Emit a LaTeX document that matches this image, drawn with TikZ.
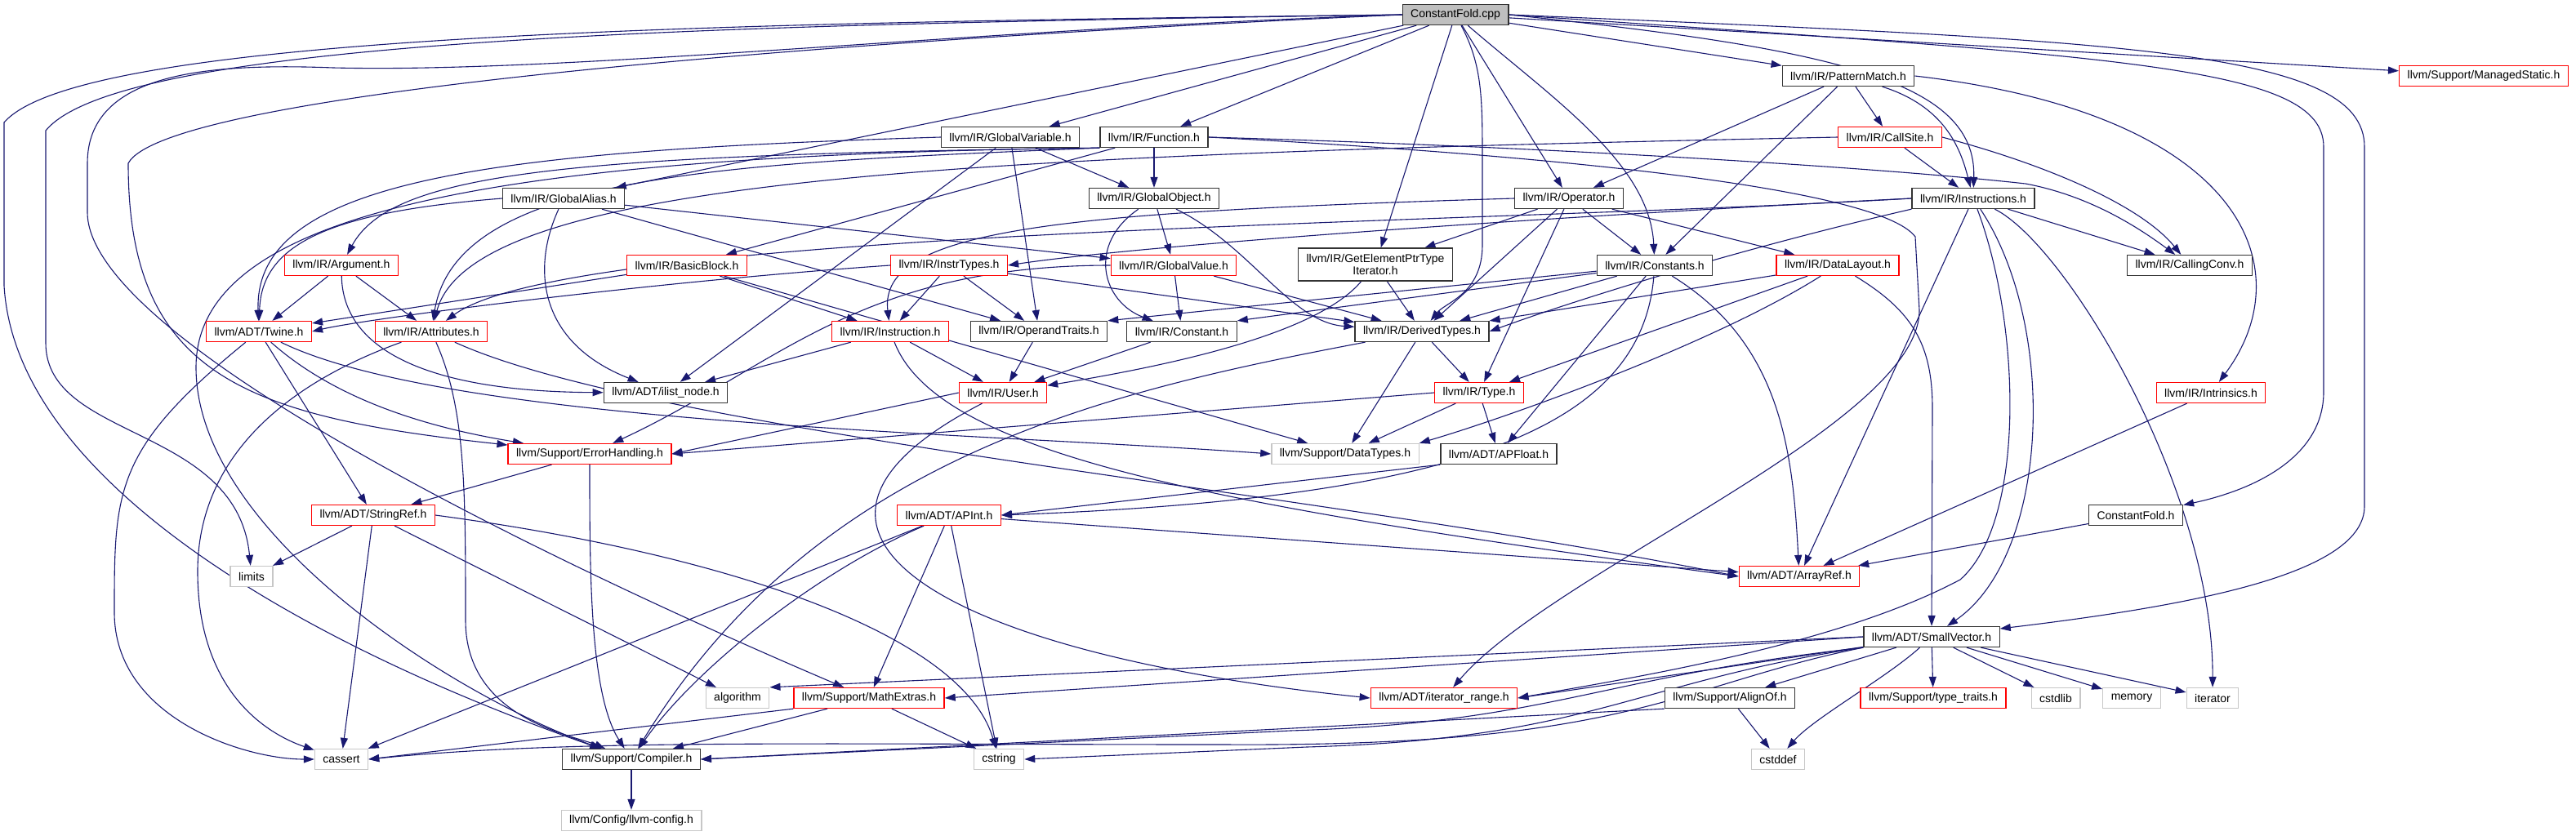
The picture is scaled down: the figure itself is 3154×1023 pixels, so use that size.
\documentclass[tikz,border=0pt]{standalone}
\usepackage{fontspec}
\setmainfont{Liberation Sans}
\usepackage{tikz}
\usetikzlibrary{arrows.meta,backgrounds}
\definecolor{edgeblue}{HTML}{191970}

\begin{document}
\begin{tikzpicture}[x=1pt,y=-1pt,
    box/.style={draw,line width=1.3pt,fill=white,inner xsep=10pt,inner ysep=2pt,
      minimum height=25pt,font=\fontsize{14}{15.5}\selectfont},
    hdr/.style={box,draw=black!80},
    trunc/.style={box,draw=red},
    sys/.style={box,draw=black!22},
    rootbox/.style={box,draw=black!80,fill=black!25},
    dep/.style={draw=edgeblue,line width=1.1pt,-{Triangle[length=13pt,width=9pt]}}]
  \useasboundingbox (0,0) rectangle (3154,1023);

  \node[rootbox] (cfcpp) at (1782,18) {ConstantFold.cpp};
  \node[hdr] (pm) at (2263,93) {llvm/IR/PatternMatch.h};
  \node[trunc] (ms) at (3041,93) {llvm/Support/ManagedStatic.h};
  \node[trunc] (cs) at (2314,168) {llvm/IR/CallSite.h};
  \node[hdr] (gv) at (1237,168) {llvm/IR/GlobalVariable.h};
  \node[hdr] (fn) at (1413,168) {llvm/IR/Function.h};
  \node[hdr] (ga) at (690,243) {llvm/IR/GlobalAlias.h};
  \node[hdr] (go) at (1413,243) {llvm/IR/GlobalObject.h};
  \node[hdr] (op) at (1921,243) {llvm/IR/Operator.h};
  \node[hdr] (ins) at (2416,243) {llvm/IR/Instructions.h};
  \node[trunc] (arg) at (418,325) {llvm/IR/Argument.h};
  \node[trunc] (bb) at (841,325) {llvm/IR/BasicBlock.h};
  \node[trunc] (it) at (1162,325) {llvm/IR/InstrTypes.h};
  \node[trunc] (gval) at (1437,325) {llvm/IR/GlobalValue.h};
  \node[hdr,align=center,minimum height=40pt] (gep) at (1684,324) {llvm/IR/GetElementPtrType\\Iterator.h};
  \node[hdr] (cons) at (2026,325) {llvm/IR/Constants.h};
  \node[trunc] (dl) at (2250,325) {llvm/IR/DataLayout.h};
  \node[hdr] (cc) at (2681,325) {llvm/IR/CallingConv.h};
  \node[trunc] (tw) at (317,406) {llvm/ADT/Twine.h};
  \node[trunc] (attr) at (528,406) {llvm/IR/Attributes.h};
  \node[trunc] (instn) at (1090,406) {llvm/IR/Instruction.h};
  \node[hdr] (ot) at (1272,406) {llvm/IR/OperandTraits.h};
  \node[hdr] (cst) at (1447,406) {llvm/IR/Constant.h};
  \node[hdr] (dt) at (1741,406) {llvm/IR/DerivedTypes.h};
  \node[hdr] (iln) at (815,481) {llvm/ADT/ilist\_node.h};
  \node[trunc] (usr) at (1228,481) {llvm/IR/User.h};
  \node[trunc] (ty) at (1811,481) {llvm/IR/Type.h};
  \node[trunc] (intr) at (2707,481) {llvm/IR/Intrinsics.h};
  \node[trunc] (eh) at (722,556) {llvm/Support/ErrorHandling.h};
  \node[sys] (dtp) at (1647,556) {llvm/Support/DataTypes.h};
  \node[hdr] (apf) at (1835,556) {llvm/ADT/APFloat.h};
  \node[trunc] (sr) at (457,631) {llvm/ADT/StringRef.h};
  \node[trunc] (api) at (1162,631) {llvm/ADT/APInt.h};
  \node[hdr] (cfh) at (2615,631) {ConstantFold.h};
  \node[sys] (lim) at (308,706) {limits};
  \node[trunc] (ar) at (2203,706) {llvm/ADT/ArrayRef.h};
  \node[hdr] (sv) at (2365,780) {llvm/ADT/SmallVector.h};
  \node[sys] (alg) at (903,855) {algorithm};
  \node[trunc] (me) at (1064,855) {llvm/Support/MathExtras.h};
  \node[trunc] (itr) at (1768,855) {llvm/ADT/iterator\_range.h};
  \node[hdr] (ao) at (2118,855) {llvm/Support/AlignOf.h};
  \node[trunc] (tt) at (2367,855) {llvm/Support/type\_traits.h};
  \node[sys] (cstdlib) at (2517,855) {cstdlib};
  \node[sys] (mem) at (2610,855) {memory};
  \node[sys] (iter) at (2709,855) {iterator};
  \node[sys] (cas) at (418,930) {cassert};
  \node[hdr] (comp) at (773,930) {llvm/Support/Compiler.h};
  \node[sys] (cstr) at (1223,930) {cstring};
  \node[sys] (cdef) at (2177,930) {cstddef};
  \node[sys] (cfg) at (773,1005) {llvm/Config/llvm-config.h};

  \begin{scope}[on background layer]
    \draw[dep] (cfcpp) -- (ms);
    \draw[dep] (cfcpp) -- (pm);
    \draw[dep] (cfcpp.east) .. controls (2600,70) and (2845,80) .. (2845,180) -- (2845,480) .. controls (2845,560) and (2760,600) .. (cfh);
    \draw[dep] (cfcpp.east) .. controls (2600,50) and (2895,60) .. (2895,180) -- (2895,620) .. controls (2895,700) and (2700,740) .. (sv);
    \draw[dep] (cfcpp.east) .. controls (2250,60) and (2420,100) .. (ins);
    \draw[dep] (cfcpp) .. controls (1900,120) and (2020,200) .. (cons);
    \draw[dep] (cfcpp) -- (op);
    \draw[dep] (cfcpp) .. controls (1815,80) and (1815,120) .. (1815,200) -- (1815,300) .. controls (1815,360) and (1770,370) .. (dt);
    \draw[dep] (cfcpp) -- (gep);
    \draw[dep] (cfcpp) -- (fn);
    \draw[dep] (cfcpp) -- (gv);
    \draw[dep] (cfcpp) -- (ga);
    \draw[dep] (cfcpp.west) .. controls (900,28) and (100,40) .. (5,150) -- (5,350) .. controls (20,600) and (400,800) .. (comp);
    \draw[dep] (cfcpp.west) .. controls (900,30) and (150,45) .. (56,160) -- (56,420) .. controls (56,540) and (290,520) .. (lim);
    \draw[dep] (cfcpp.west) .. controls (1200,35) and (700,90) .. (408,83) .. controls (250,77) and (107,90) .. (107,200) -- (107,260) .. controls (107,420) and (700,700) .. (me);
    \draw[dep] (cfcpp.west) .. controls (900,55) and (200,120) .. (157,200) .. controls (157,460) and (300,510) .. (eh);

    \draw[dep] (pm) -- (cs);
    \draw[dep] (pm) .. controls (2380,130) and (2400,180) .. (ins);
    \draw[dep] (pm) -- (op);
    \draw[dep] (pm) -- (cons);
    \draw[dep] (pm.east) .. controls (2750,140) and (2820,330) .. (intr);

    \draw[dep] (cs) -- (ins);
    \draw[dep] (cs.east) .. controls (2500,200) and (2620,250) .. (cc);
    \draw[dep] (cs.west) .. controls (1200,190) and (580,215) .. (attr);

    \draw[dep] (gv) -- (go);
    \draw[dep] (gv) -- (ot);
    \draw[dep] (gv) -- (iln);
    \draw[dep] (gv.west) .. controls (600,185) and (310,220) .. (tw);

    \draw[dep] (fn) -- (go);
    \draw[dep] (fn) -- (bb);
    \draw[dep] (fn.south west) .. controls (700,190) and (480,210) .. (arg);
    \draw[dep] (fn.south west) .. controls (900,200) and (560,210) .. (attr);
    \draw[dep] (fn.east) .. controls (1900,180) and (2300,205) .. (2480,225) .. controls (2560,240) and (2620,280) .. (cc);
    \draw[dep] (fn.south west) .. controls (600,190) and (240,260) .. (240,450) .. controls (240,650) and (550,850) .. (comp);
    \draw[dep] (fn.east) .. controls (1900,190) and (2300,230) .. (2345,290) -- (2350,380) .. controls (2350,520) and (1900,700) .. (itr);

    \draw[dep] (ga) -- (gval);
    \draw[dep] (ga) .. controls (650,330) and (660,420) .. (iln);
    \draw[dep] (ga.west) .. controls (400,260) and (320,300) .. (tw);
    \draw[dep] (ga) -- (ot);

    \draw[dep] (go) -- (gval);
    \draw[dep] (go) .. controls (1330,300) and (1350,370) .. (cst);
    \draw[dep] (go) .. controls (1530,300) and (1580,395) .. (dt);

    \draw[dep] (op) -- (gep);
    \draw[dep] (op) -- (cons);
    \draw[dep] (op) -- (dl);
    \draw[dep] (op) -- (dt);
    \draw[dep] (op) -- (ty);
    \draw[dep] (op.west) .. controls (1300,260) and (1075,280) .. (instn);

    \draw[dep] (ins) -- (cc);
    \draw[dep] (ins.west) .. controls (1900,265) and (1400,300) .. (it.east);
    \draw[dep] (ins.west) .. controls (1800,275) and (700,280) .. (attr);
    \draw[dep] (ins.south west) .. controls (2150,300) and (1950,360) .. (dt.east);
    \draw[dep] (ins) -- (ar);
    \draw[dep] (ins) .. controls (2520,400) and (2510,680) .. (sv);
    \draw[dep] (ins) .. controls (2475,400) and (2480,640) .. (2400,710) .. controls (2250,790) and (2000,830) .. (itr.east);
    \draw[dep] (ins) .. controls (2530,300) and (2710,600) .. (iter);

    \draw[dep] (it) -- (instn);
    \draw[dep] (it) -- (ot);
    \draw[dep] (it.west) .. controls (800,345) and (450,390) .. (tw.east);
    \draw[dep] (it) -- (dt);

    \draw[dep] (bb) -- (tw);
    \draw[dep] (bb) -- (instn);
    \draw[dep] (bb) -- (dtp);

    \draw[dep] (arg) -- (tw);
    \draw[dep] (arg) -- (attr);
    \draw[dep] (arg) .. controls (420,440) and (550,480) .. (iln);

    \draw[dep] (attr) .. controls (350,470) and (242,560) .. (242,700) .. controls (242,850) and (330,900) .. (cas);
    \draw[dep] (attr) .. controls (570,500) and (570,600) .. (570,760) .. controls (570,880) and (700,900) .. (comp);
    \draw[dep] (attr) .. controls (800,530) and (1600,600) .. (ar.west);

    \draw[dep] (tw) -- (sr);
    \draw[dep] (tw) .. controls (400,480) and (500,520) .. (eh);
    \draw[dep] (tw) .. controls (550,520) and (1200,530) .. (dtp.west);
    \draw[dep] (tw) .. controls (140,550) and (140,600) .. (140,750) .. controls (140,880) and (300,930) .. (cas.west);

    \draw[dep] (instn) -- (iln);
    \draw[dep] (instn) -- (usr);
    \draw[dep] (instn) .. controls (1150,560) and (1500,620) .. (ar.west);

    \draw[dep] (ot) -- (usr);
    \draw[dep] (cst) -- (usr);
    \draw[dep] (gep) -- (dt);
    \draw[dep] (gep) .. controls (1620,400) and (1480,440) .. (usr);

    \draw[dep] (gval) -- (dt);
    \draw[dep] (gval) -- (cst);
    \draw[dep] (gval.west) .. controls (1050,325) and (950,450) .. (eh);

    \draw[dep] (cons) -- (cst.north east);
    \draw[dep] (cons) -- (ot.north east);
    \draw[dep] (cons) -- (dt);
    \draw[dep] (cons) -- (apf);
    \draw[dep] (cons) .. controls (2010,520) and (1800,610) .. (api.east);
    \draw[dep] (cons) .. controls (2180,420) and (2195,550) .. (ar);

    \draw[dep] (dl) -- (dt);
    \draw[dep] (dl) -- (ty);
    \draw[dep] (dl) .. controls (2100,420) and (1850,510) .. (dtp.north east);
    \draw[dep] (dl) .. controls (2340,380) and (2366,420) .. (2366,500) -- (sv);

    \draw[dep] (ty) -- (dtp);
    \draw[dep] (ty) -- (apf);
    \draw[dep] (ty.west) -- (eh.east);

    \draw[dep] (dt) -- (ty);
    \draw[dep] (dt) -- (dtp);
    \draw[dep] (dt) .. controls (1350,480) and (1000,560) .. (comp);

    \draw[dep] (apf.south west) -- (api.east);
    \draw[dep] (usr.west) -- (eh.east);
    \draw[dep] (usr) .. controls (900,650) and (1150,800) .. (itr.west);

    \draw[dep] (sr) -- (cas);
    \draw[dep] (sr) -- (lim);
    \draw[dep] (sr) -- (alg);
    \draw[dep] (sr.east) .. controls (900,680) and (1180,780) .. (cstr);

    \draw[dep] (eh) -- (sr);
    \draw[dep] (eh) .. controls (722,700) and (722,850) .. (comp);

    \draw[dep] (api) -- (ar);
    \draw[dep] (api) -- (me);
    \draw[dep] (api) .. controls (1000,700) and (850,820) .. (comp);
    \draw[dep] (api) -- (cas);
    \draw[dep] (api) -- (cstr);

    \draw[dep] (me) -- (comp);
    \draw[dep] (me) -- (cstr);
    \draw[dep] (me.south west) -- (cas.east);

    \draw[dep] (sv.west) -- (alg.north east);
    \draw[dep] (sv.west) -- (me.east);
    \draw[dep] (sv) -- (itr.east);
    \draw[dep] (sv.south west) .. controls (1950,830) and (1900,885) .. (1580,895) -- (comp.east);
    \draw[dep] (sv.south west) .. controls (2000,835) and (1950,905) .. (1600,915) -- (cstr.east);
    \draw[dep] (sv.south west) .. controls (2050,840) and (2000,915) .. (1500,912) .. controls (1000,912) and (700,905) .. (cas.east);
    \draw[dep] (sv) -- (ao);
    \draw[dep] (sv) -- (tt);
    \draw[dep] (sv) .. controls (2310,830) and (2220,880) .. (cdef);
    \draw[dep] (sv) -- (cstdlib);
    \draw[dep] (sv) -- (mem);
    \draw[dep] (sv) -- (iter);

    \draw[dep] (ao) -- (cdef);
    \draw[dep] (ao.south west) -- (comp.east);

    \draw[dep] (comp) -- (cfg);
    \draw[dep] (intr) -- (ar);
    \draw[dep] (cfh) -- (ar);
  \end{scope}
\end{tikzpicture}
\end{document}
